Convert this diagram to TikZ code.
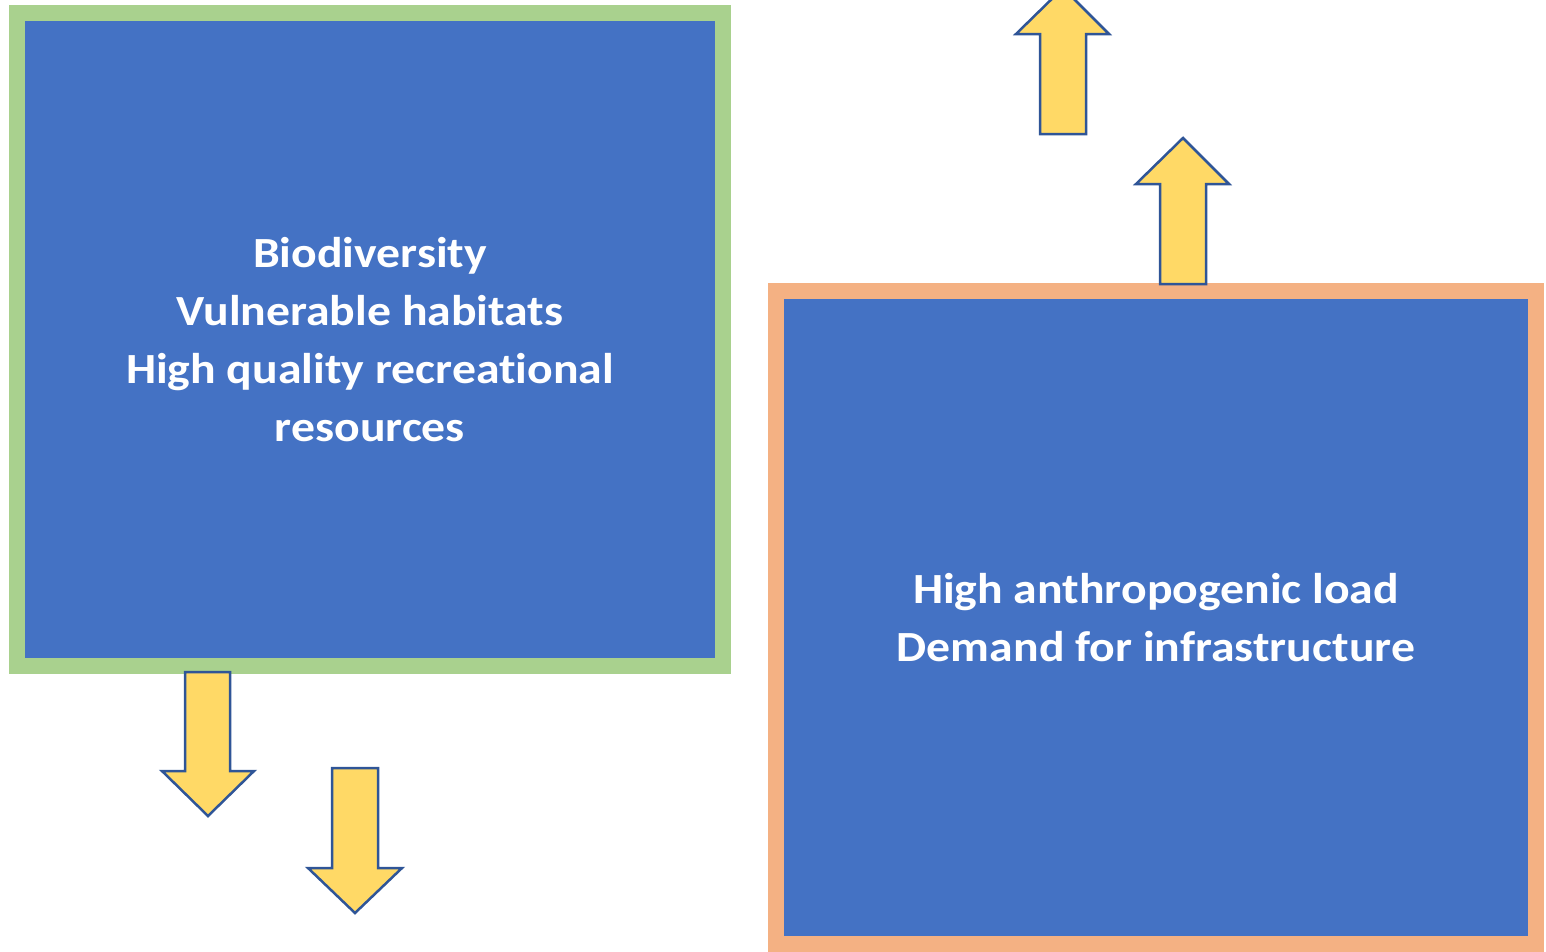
\documentclass[tikz,border=0pt]{standalone}
\usepackage{fontspec}
\setmainfont[Ligatures=NoCommon,FakeStretch=1.11]{Carlito}
\definecolor{boxblue}{HTML}{4472C4}
\definecolor{boxgreen}{HTML}{A9D18E}
\definecolor{boxorange}{HTML}{F4B183}
\definecolor{arrowyellow}{HTML}{FFD966}
\definecolor{arrowedge}{HTML}{2F5597}
\tikzset{
  bigbox/.style={rectangle, fill=boxblue, line width=16pt, inner sep=0pt,
    text=white, align=center, font=\fontsize{43}{58}\selectfont\bfseries},
  blockarrow/.style={fill=arrowyellow, draw=arrowedge, line width=2.5pt, line join=miter},
}
\begin{document}
\begin{tikzpicture}[x=1pt,y=-1pt]
\useasboundingbox (0,0) rectangle (1546,951);
\node[bigbox, draw=boxgreen, minimum width=706pt, minimum height=653pt] (nature) at (370,339.5)
  {Biodiversity\\Vulnerable habitats\\High quality recreational\\resources};
\node[bigbox, draw=boxorange, minimum width=760pt, minimum height=653pt] (human) at (1156,617.5)
  {High anthropogenic load\\Demand for infrastructure};
% down arrows
\draw[blockarrow] (185,672) -- (230,672) -- (230,771) -- (254,771) -- (208,816) -- (162,771) -- (185,771) -- cycle;
\draw[blockarrow] (332,768) -- (378,768) -- (378,868) -- (402,868) -- (355,913) -- (308,868) -- (332,868) -- cycle;
% up arrows
\draw[blockarrow] (1040,134) -- (1086,134) -- (1086,34) -- (1109,34) -- (1063,-12) -- (1016,34) -- (1040,34) -- cycle;
\draw[blockarrow] (1160,284) -- (1206,284) -- (1206,184) -- (1229,184) -- (1183,138) -- (1136,184) -- (1160,184) -- cycle;
\end{tikzpicture}
\end{document}
